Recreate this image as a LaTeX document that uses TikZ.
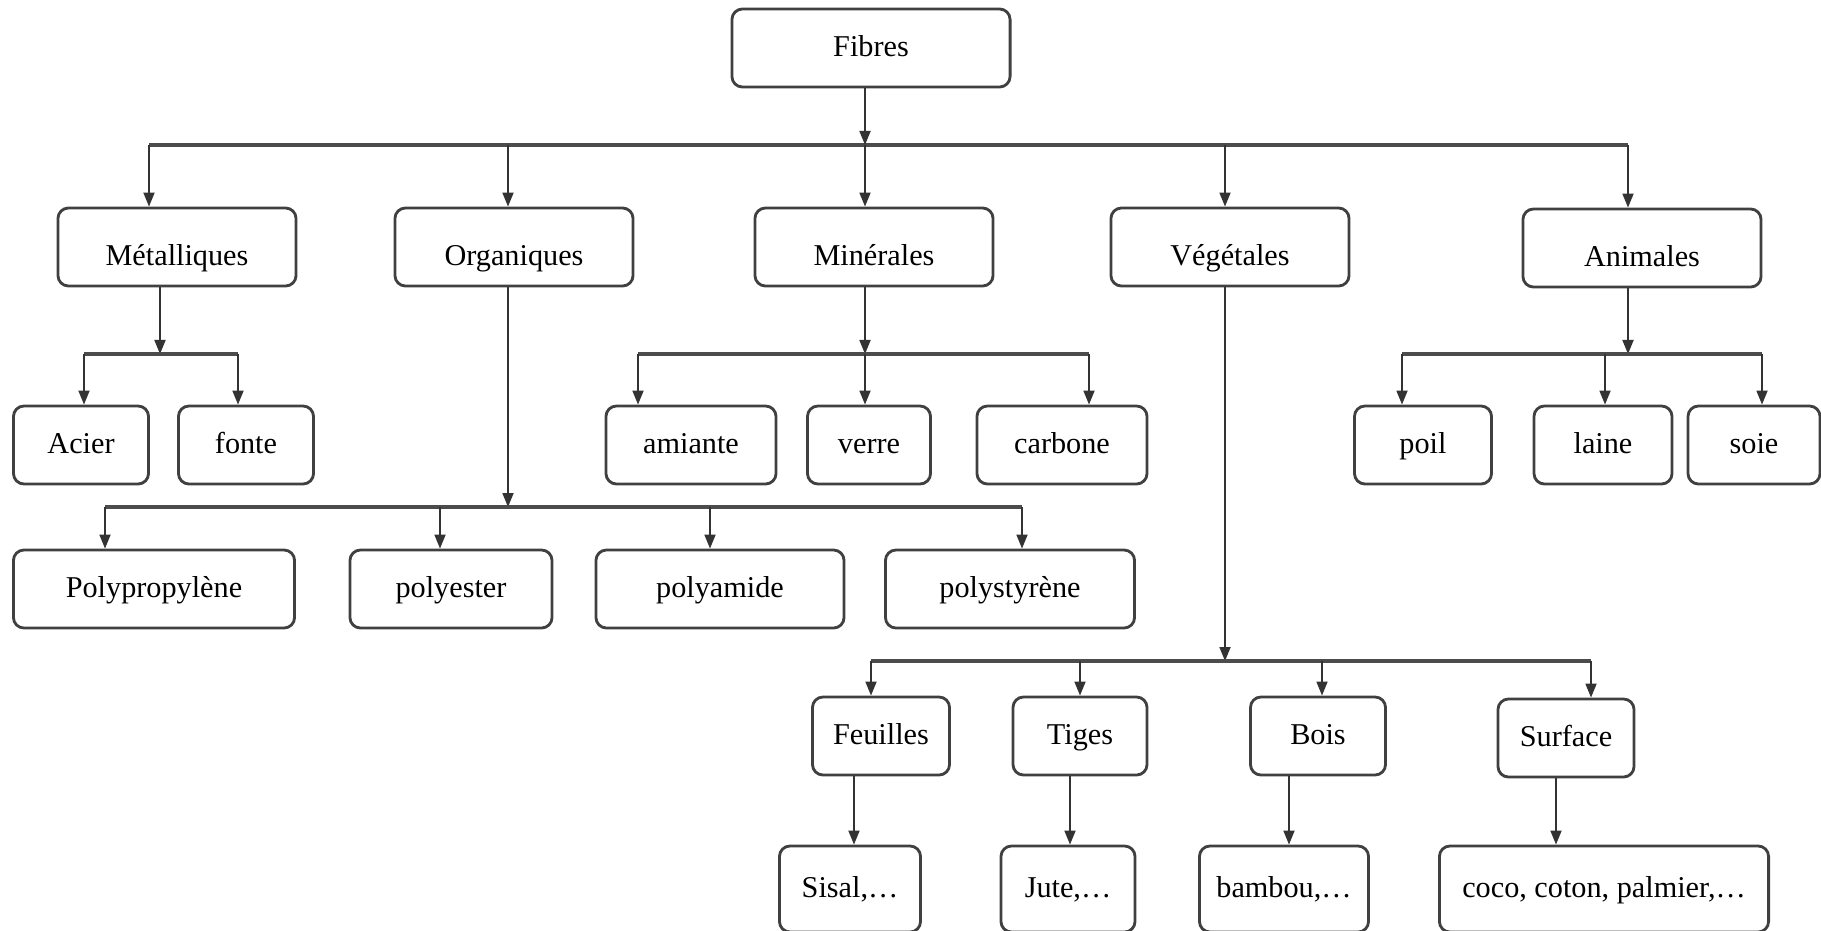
\documentclass[tikz,border=0pt]{standalone}
\usepackage{fontspec}
\setmainfont{Liberation Serif}
\usetikzlibrary{arrows.meta}
\tikzset{
  box/.style={draw=black!75, line width=0.8pt, rounded corners=3pt, align=center, inner sep=2pt, minimum height=7.8mm, text height=0.72em, text depth=0.22em, font=\fontsize{8.6}{10.5}\selectfont},
  arrow/.style={-{Triangle[length=1.4mm,width=1.1mm]}, line width=0.5pt, draw=black!80},
  link/.style={line width=0.5pt, draw=black!80},
  bus/.style={line width=0.9pt, draw=black!70}
}

\begin{document}
\begin{tikzpicture}[x=0.01cm, y=-0.01cm,
  wide/.style={box, minimum width=2.38cm, text height=1.3em},
  leaf/.style={box, minimum width=1.36cm}
]
\useasboundingbox (0,0) rectangle (1821,930);
% root
\node[box, minimum width=2.78cm] (fib) at (871,48) {Fibres};
% families
\node[wide] (met) at (177,247) {Métalliques};
\node[wide] (org) at (514,247) {Organiques};
\node[wide] (min) at (874,247) {Minérales};
\node[wide] (veg) at (1230,247) {Végétales};
\node[wide] (ani) at (1642,248) {Animales};
% metalliques
\node[leaf, minimum width=1.35cm] (acier) at (81,445) {Acier};
\node[leaf, minimum width=1.35cm] (fonte) at (246,445) {fonte};
% minerales
\node[leaf, minimum width=1.70cm] (amiante) at (691,445) {amiante};
\node[leaf, minimum width=1.23cm] (verre) at (869,445) {verre};
\node[leaf, minimum width=1.70cm] (carbone) at (1062,445) {carbone};
% animales
\node[leaf, minimum width=1.37cm] (poil) at (1423,445) {poil};
\node[leaf, minimum width=1.38cm] (laine) at (1603,445) {laine};
\node[leaf, minimum width=1.32cm] (soie) at (1754,445) {soie};
% organiques
\node[box, minimum width=2.81cm] (pp) at (154,589) {Polypropylène};
\node[box, minimum width=2.02cm] (pest) at (451,589) {polyester};
\node[box, minimum width=2.48cm] (pam) at (720,589) {polyamide};
\node[box, minimum width=2.49cm] (pst) at (1010,589) {polystyrène};
% vegetales
\node[leaf, minimum width=1.37cm] (feu) at (881,736) {Feuilles};
\node[leaf, minimum width=1.34cm] (tig) at (1080,736) {Tiges};
\node[leaf, minimum width=1.35cm] (bois) at (1318,736) {Bois};
\node[leaf, minimum width=1.36cm] (surf) at (1566,738) {Surface};
\node[leaf, minimum width=1.41cm, minimum height=8.6mm] (sisal) at (850,889) {Sisal,\dots};
\node[leaf, minimum width=1.34cm, minimum height=8.6mm] (jute) at (1068,889) {Jute,\dots};
\node[leaf, minimum width=1.69cm, minimum height=8.6mm] (bam) at (1284,889) {bambou,\dots};
\node[box, minimum width=3.29cm, minimum height=8.6mm] (coco) at (1604,889) {coco, coton, palmier,\dots};

% junctions
\coordinate (jmet) at (149,145);
\coordinate (jorg) at (508,145);
\coordinate (jmin) at (865,145);
\coordinate (jveg) at (1225,145);
\coordinate (jani) at (1628,145);
\coordinate (jac) at (84,354);
\coordinate (jmt) at (160,354);
\coordinate (jfo) at (238,354);
\coordinate (jam) at (638,354);
\coordinate (jve) at (865,354);
\coordinate (jca) at (1089,354);
\coordinate (jpo) at (1402,354);
\coordinate (jla) at (1605,354);
\coordinate (jan) at (1628,354);
\coordinate (jso) at (1762,354);
\coordinate (jpp) at (105,507);
\coordinate (jpe) at (440,507);
\coordinate (jor) at (508,507);
\coordinate (jpa) at (710,507);
\coordinate (jps) at (1022,507);
\coordinate (jfe) at (871,661);
\coordinate (jti) at (1080,661);
\coordinate (jvg) at (1225,661);
\coordinate (jbo) at (1322,661);
\coordinate (jsu) at (1591,661);

% root to families
\draw[bus] (jmet) -- (jani);
\draw[arrow] (fib.south -| jmin) -- (jmin);
\foreach \j/\n in {jmet/met, jorg/org, jmin/min, jveg/veg, jani/ani}
  \draw[arrow] (\j) -- (\j |- \n.north);
% metalliques
\draw[arrow] (met.south -| jmt) -- (jmt);
\draw[bus] (jac) -- (jfo);
\foreach \j/\n in {jac/acier, jfo/fonte}
  \draw[arrow] (\j) -- (\j |- \n.north);
% minerales
\draw[arrow] (min.south -| jve) -- (jve);
\draw[bus] (jam) -- (jca);
\foreach \j/\n in {jam/amiante, jve/verre, jca/carbone}
  \draw[arrow] (\j) -- (\j |- \n.north);
% animales
\draw[arrow] (ani.south -| jan) -- (jan);
\draw[bus] (jpo) -- (jso);
\foreach \j/\n in {jpo/poil, jla/laine, jso/soie}
  \draw[arrow] (\j) -- (\j |- \n.north);
% organiques
\draw[arrow] (org.south -| jor) -- (jor);
\draw[bus] (jpp) -- (jps);
\foreach \j/\n in {jpp/pp, jpe/pest, jpa/pam, jps/pst}
  \draw[arrow] (\j) -- (\j |- \n.north);
% vegetales
\draw[arrow] (veg.south -| jvg) -- (jvg);
\draw[bus] (jfe) -- (jsu);
\foreach \j/\n in {jfe/feu, jti/tig, jbo/bois, jsu/surf}
  \draw[arrow] (\j) -- (\j |- \n.north);
\draw[arrow] ([xshift=-0.27cm]feu.south) -- ([xshift=-0.27cm]feu.south |- sisal.north);
\draw[arrow] ([xshift=-0.10cm]tig.south) -- ([xshift=-0.10cm]tig.south |- jute.north);
\draw[arrow] ([xshift=-0.29cm]bois.south) -- ([xshift=-0.29cm]bois.south |- bam.north);
\draw[arrow] ([xshift=-0.10cm]surf.south) -- ([xshift=-0.10cm]surf.south |- coco.north);
\end{tikzpicture}
\end{document}
